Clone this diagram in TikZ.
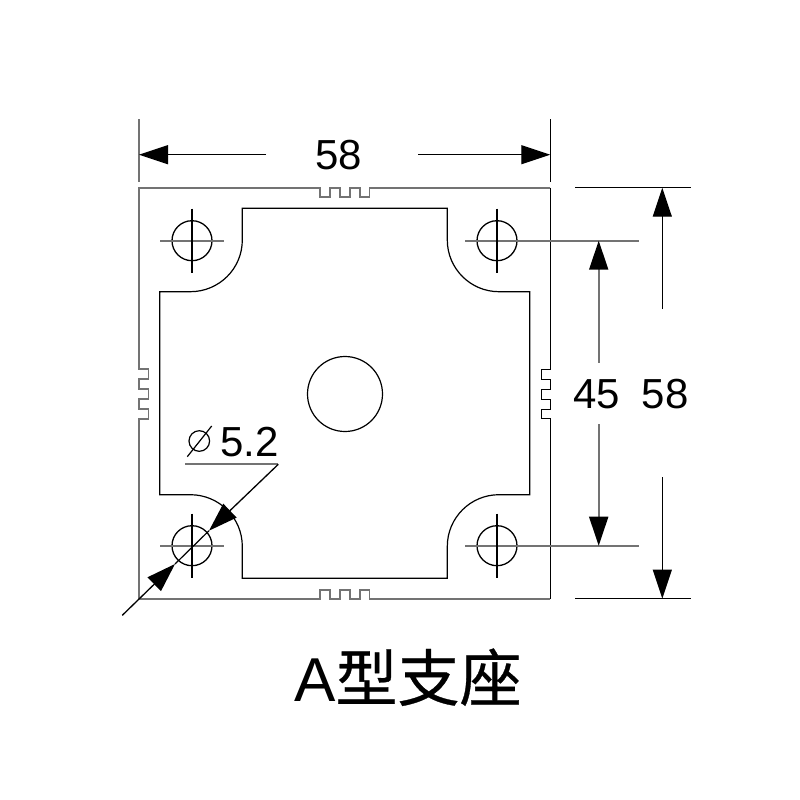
\documentclass[tikz,border=0pt]{standalone}
\usepackage{fontspec}
\setmainfont{Liberation Sans}
\newfontfamily\cjkfont[FakeBold=0.5]{Noto Sans CJK SC}
\usetikzlibrary{arrows.meta}
\tikzstyle{outline} = [line width=1.3pt, black]
\tikzstyle{outlinegray} = [line width=1.9pt, black!55]
\tikzstyle{centerline} = [line width=1.9pt, black!55]
\tikzstyle{thinline} = [line width=1.2pt, black]
\tikzstyle{arrow} = [line width=1.3pt, black, -{Triangle[length=29pt,width=19pt]}]
\tikzstyle{arrowgray} = [line width=1.9pt, black!55, -{Triangle[length=29pt,width=19pt,color=black]}]
\tikzstyle{dimtext} = [font=\fontsize{42}{42}\selectfont, inner sep=0pt]
\newcommand{\holemark}[2]{
  \draw[outline] (#1,#2) circle (20);
  \draw[centerline] (#1-32,#2) -- (#1+32,#2);
  \draw[outline] (#1,#2-32) -- (#1,#2+32);
}
\begin{document}
\begin{tikzpicture}[x=1pt,y=-1pt]
  \useasboundingbox (0,0) rectangle (800,800);
  % outer edge
  \draw[outlinegray] (550.3,598.6) -- (369.5,598.6) -- (369.5,590.3) -- (360,590.3) -- (360,598.6) -- (350,598.6) -- (350,590.3)
    -- (340,590.3) -- (340,598.6) -- (330,598.6) -- (330,590.3) -- (320.3,590.3) -- (320.3,598.6) -- (139,598.6)
    -- (139,418.7) -- (148.5,418.7) -- (148.5,409.3) -- (139,409.3) -- (139,399.3)
    -- (148.5,399.3) -- (148.5,389.3) -- (139,389.3) -- (139,379.3) -- (148.5,379.3) -- (148.5,369.3) -- (139,369.3)
    -- (139,187.7) -- (320.3,187.7) -- (320.3,197.3) -- (330,197.3) -- (330,187.7) -- (340,187.7) -- (340,197.3)
    -- (350,197.3) -- (350,187.7) -- (360,187.7) -- (360,197.3) -- (369.5,197.3) -- (369.5,187.7) -- (550.3,187.7);
  \draw[outline] (550.3,187.7) -- (550.3,369.3) -- (541.3,369.3) -- (541.3,379.3) -- (550.3,379.3) -- (550.3,389.3)
    -- (541.3,389.3) -- (541.3,399.3) -- (550.3,399.3) -- (550.3,409.3) -- (541.3,409.3) -- (541.3,418.7) -- (550.3,418.7)
    -- (550.3,598.6);
  % inner edge
  \draw[thinline] (242.3,208.3) -- (447.3,208.3) -- (447.3,240) .. controls (447.3,268.7) and (470.6,291.7) .. (499,291.7)
    -- (529.7,291.7) -- (529.7,494.7) -- (499,494.7) .. controls (470.6,494.7) and (447.3,517.7) .. (447.3,546.4)
    -- (447.3,578.3) -- (242.3,578.3) -- (242.3,546.4) .. controls (242.3,517.7) and (219,494.7) .. (190.3,494.7)
    -- (159.7,494.7) -- (159.7,291.7) -- (190.3,291.7) .. controls (219,291.7) and (242.3,268.7) .. (242.3,240)
    -- cycle;
  \draw[thinline] (345,394) circle (37.5);
  % holes
  \holemark{192}{240.7}
  \holemark{497}{240.7}
  \holemark{192}{545.7}
  \holemark{497}{545.7}
  % top dimension
  \draw[outlinegray] (139,119) -- (139,182);
  \draw[outline] (550.3,119) -- (550.3,182);
  \node (top58) [dimtext] at (338.6,155.5) {58};
  \draw[arrow] (266,154.7) -- (139,154.7);
  \draw[arrow] (418,154.7) -- (550.3,154.7);
  % right dimensions
  \draw[outline] (575.3,187.7) -- (691,187.7);
  \draw[outline] (575.3,598.6) -- (691,598.6);
  \draw[centerline] (529,240.7) -- (639,240.7);
  \draw[centerline] (529,545.7) -- (639,545.7);
  \node (mid45) [dimtext] at (596.5,394) {45};
  \node (right58) [dimtext] at (665,394) {58};
  \draw[arrowgray] (598.7,362.7) -- (598.7,240.7);
  \draw[arrowgray] (598.7,424) -- (598.7,545.7);
  \draw[arrow] (662.3,309) -- (662.3,187.7);
  \draw[arrow] (662.3,477.3) -- (662.3,598.6);
  % hole diameter
  \draw[thinline] (199.3,441) circle (10.3);
  \draw[thinline] (187.3,456.7) -- (211.7,426);
  \node (dia) [dimtext, anchor=base west] at (220,456.7) {5.2};
  \draw[centerline] (185,464.3) -- (278.3,464.3);
  \draw[arrow] (278.3,464.3) -- (209,530.7);
  \draw[arrow] (122.3,615.3) -- (175,564);
  \draw[thinline] (175,564) -- (209,530.7);
  % title
  \node (title) [inner sep=0pt, anchor=base west] at (294,701) {\fontsize{62}{62}\selectfont A\cjkfont 型支座};
\end{tikzpicture}
\end{document}
